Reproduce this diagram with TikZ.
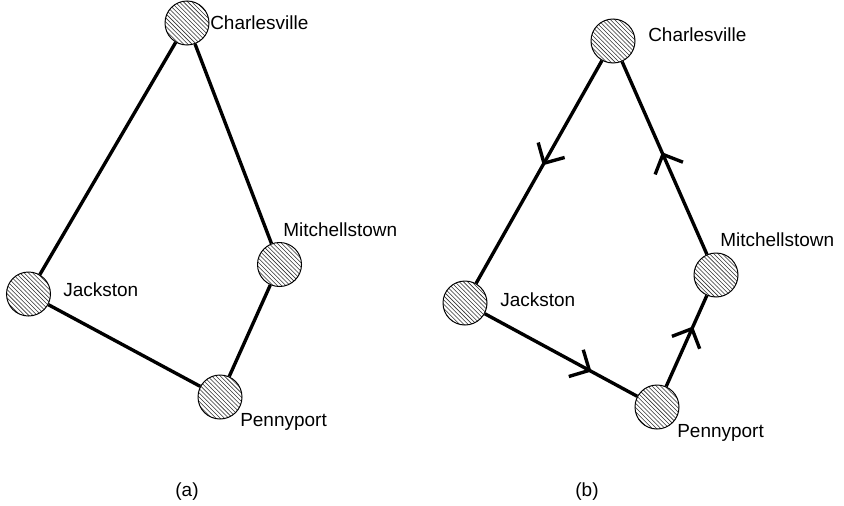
\documentclass[tikz,border=0pt]{standalone}
\usepackage{fontspec}
\setmainfont{Liberation Sans}
\usetikzlibrary{patterns, arrows.meta, decorations.markings}
\tikzset{
  town/.style={circle, draw=black, line width=0.7pt, minimum size=1.1cm,
    inner sep=0pt, pattern=north west lines, pattern color=black!80},
  townname/.style={anchor=west, inner sep=0pt, font=\fontsize{13.5}{16}\selectfont},
  road/.style={line width=2.4pt},
  caption/.style={font=\fontsize{13.5}{16}\selectfont, inner sep=0pt},
  flow/.style={road, postaction={decorate}, decoration={markings,
    mark=at position #1 with {\arrow{Straight Barb[length=3.8mm, width=7.6mm, line width=2.4pt]}}}}
}

\begin{document}
\begin{tikzpicture}[x=0.025cm, y=-0.025cm]
\useasboundingbox (0,0) rectangle (844,506);

%% ── (a) towns ──────────────────────────────────────────
\node[town] (charA) at (187, 23)  {};
\node[town] (jackA) at (28.5,294) {};
\node[town] (mitchA) at (279.5,264.5) {};
\node[town] (pennyA) at (220,397) {};

\node[townname] (charAl)  at (210,23)  {Charlesville};
\node[townname] (jackAl)  at (63,290)  {Jackston};
\node[townname] (mitchAl) at (283,230) {Mitchellstown};
\node[townname] (pennyAl) at (240,422) {Pennyport};

%% ── (a) roads ──────────────────────────────────────────
\draw[road] (charA) -- (jackA);
\draw[road] (charA) -- (mitchA);
\draw[road] (jackA) -- (pennyA);
\draw[road] (pennyA) -- (mitchA);

%% ── (b) towns ──────────────────────────────────────────
\node[town] (charB) at (613,41)  {};
\node[town] (jackB) at (465,303) {};
\node[town] (mitchB) at (716,275) {};
\node[town] (pennyB) at (657,407) {};

\node[townname] (charBl)  at (648,35)  {Charlesville};
\node[townname] (jackBl)  at (500,300) {Jackston};
\node[townname] (mitchBl) at (720,240) {Mitchellstown};
\node[townname] (pennyBl) at (677,433) {Pennyport};

%% ── (b) directed roads ─────────────────────────────────
\draw[flow=0.47] (charB) -- (jackB);
\draw[flow=0.70] (jackB) -- (pennyB);
\draw[flow=0.66] (pennyB) -- (mitchB);
\draw[flow=0.53] (mitchB) -- (charB);

%% ── captions ───────────────────────────────────────────
\node[caption] (capA) at (187,492) {(a)};
\node[caption] (capB) at (587,492) {(b)};

\end{tikzpicture}
\end{document}
